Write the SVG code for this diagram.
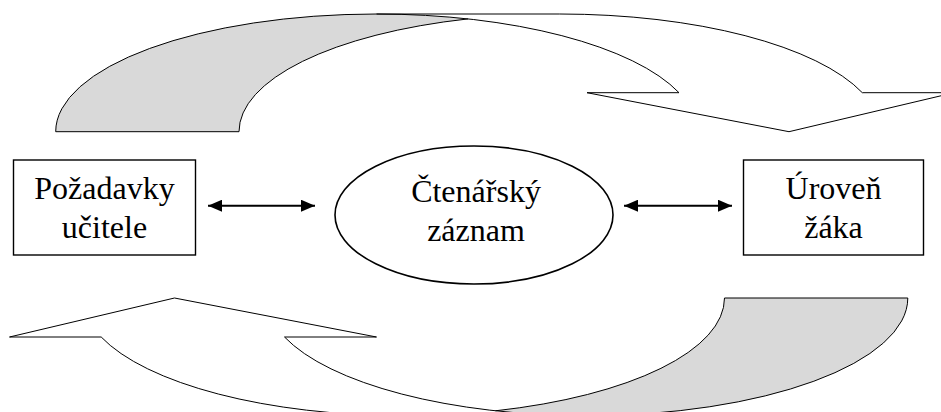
<svg xmlns="http://www.w3.org/2000/svg" xmlns:xlink="http://www.w3.org/1999/xlink" width="941" height="412" viewBox="0 0 941 412">
<style>
  .txt { font-family: "Liberation Serif", "Times New Roman", serif; font-size: 32px; fill: #000; text-anchor: middle; }
  .box { fill: #fff; stroke: #000; stroke-width: 1.4; }
  .back { fill: #d9d9d9; stroke: none; }
  .front { fill: #fff; stroke: none; }
  .outline { fill: none; stroke: #000; stroke-width: 1; stroke-linejoin: miter; }
  .conn { stroke: #000; stroke-width: 2; fill: none; }
</style>
<defs>
  <marker id="ah" markerUnits="userSpaceOnUse" markerWidth="14" markerHeight="12" refX="14" refY="6" orient="auto-start-reverse">
    <path d="M0,0 L14,6 L0,12 Z" fill="#000"/>
  </marker>
</defs>
<rect width="941" height="412" fill="#fff"/>

<g id="curved-arrow-top">
  <path class="back" d="M468.05,18.9 A320.7,117.7 0 0 0 239,131.7 L55.7,131.7 A320.7,117.7 0 0 1 468.05,18.9 Z"/>
  <path class="front" d="M789,131.7 L587,92.7 L679,92.7 A320.7,117.7 0 0 0 376.4,14 L559.7,14 A320.7,117.7 0 0 1 862.3,92.7 L954,92.7 Z"/>
  <path class="outline" d="M468.05,18.9 A320.7,117.7 0 0 0 239,131.7 L55.7,131.7 A320.7,117.7 0 0 1 376.4,14 L559.7,14 A320.7,117.7 0 0 1 862.3,92.7 L954,92.7 L789,131.7 L587,92.7 L679,92.7 A320.7,117.7 0 0 0 376.4,14"/>
</g>

<g id="curved-arrow-bottom" transform="rotate(180 481.75 214.85)">
  <path class="back" d="M468.05,18.9 A320.7,117.7 0 0 0 239,131.7 L55.7,131.7 A320.7,117.7 0 0 1 468.05,18.9 Z"/>
  <path class="front" d="M789,131.7 L587,92.7 L679,92.7 A320.7,117.7 0 0 0 376.4,14 L559.7,14 A320.7,117.7 0 0 1 862.3,92.7 L954,92.7 Z"/>
  <path class="outline" d="M468.05,18.9 A320.7,117.7 0 0 0 239,131.7 L55.7,131.7 A320.7,117.7 0 0 1 376.4,14 L559.7,14 A320.7,117.7 0 0 1 862.3,92.7 L954,92.7 L789,131.7 L587,92.7 L679,92.7 A320.7,117.7 0 0 0 376.4,14"/>
</g>

<g id="connectors">
  <line class="conn" x1="208" y1="205.7" x2="315" y2="205.7" marker-start="url(#ah)" marker-end="url(#ah)"/>
  <line class="conn" x1="624" y1="205.7" x2="732" y2="205.7" marker-start="url(#ah)" marker-end="url(#ah)"/>
</g>

<g id="pozadavky-ucitele">
  <rect class="box" x="13.5" y="160" width="182" height="95"/>
  <text class="txt" x="104.5" y="199">Požadavky</text>
  <text class="txt" x="104.5" y="238">učitele</text>
</g>

<g id="ctenarsky-zaznam">
  <ellipse cx="474" cy="215" rx="139" ry="69" fill="#fff" stroke="#000" stroke-width="1.6"/>
  <text class="txt" x="476" y="202">Čtenářský</text>
  <text class="txt" x="476" y="241">záznam</text>
</g>

<g id="uroven-zaka">
  <rect class="box" x="743.5" y="160" width="180" height="95"/>
  <text class="txt" x="833.5" y="199">Úroveň</text>
  <text class="txt" x="833.5" y="238">žáka</text>
</g>
</svg>
